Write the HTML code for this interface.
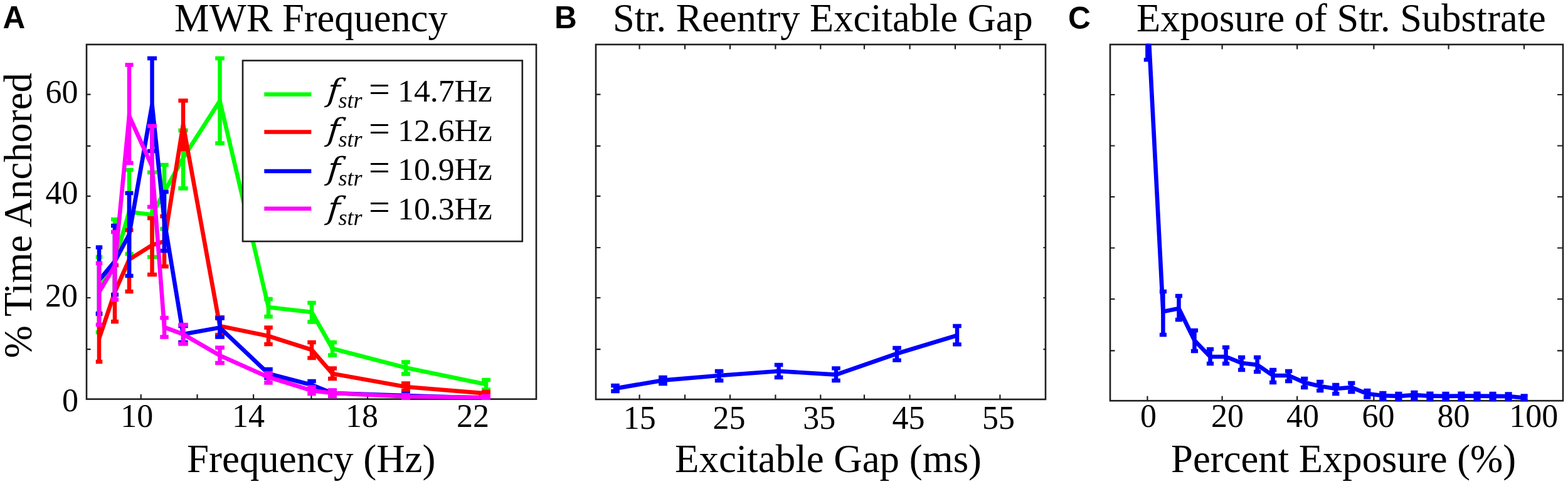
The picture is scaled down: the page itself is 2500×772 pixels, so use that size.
<!DOCTYPE html>
<html lang="en">
<head>
<meta charset="utf-8">
<title>Figure</title>
<style>html,body{margin:0;padding:0;background:#fff;}body{width:2500px;height:772px;overflow:hidden;}svg{display:block;}</style>
</head>
<body>
<svg width="2500" height="772" viewBox="0 0 2500 772">
<rect width="2500" height="772" fill="#fff"/>
<defs>
<clipPath id="cA"><rect x="136.7" y="69.7" width="719.6" height="568.2"/></clipPath>
<clipPath id="cB"><rect x="948.7" y="69.7" width="719.6" height="568.6"/></clipPath>
<clipPath id="cC"><rect x="1768.7" y="69.7" width="724.6" height="570.8000000000001"/></clipPath>
</defs>
<g>
<rect x="138" y="71" width="717" height="565.6" fill="none" stroke="#1e1e1e" stroke-width="2.6"/>
<path d="M224.7 636.6v-7.5M314.5 636.6v-7.5M404.1 636.6v-7.5M496.4 636.6v-7.5M586.0 636.6v-7.5M675.6 636.6v-7.5M765.2 636.6v-7.5" stroke="#1e1e1e" stroke-width="2.2" fill="none"/>
<path d="M138 557.2h6.5M138 475.0h6.5M138 395.0h6.5M138 312.8h6.5M138 232.8h6.5M138 150.7h6.5" stroke="#1e1e1e" stroke-width="2.2" fill="none"/>
<g stroke="#00ff00" fill="none" clip-path="url(#cA)">
<path d="M158.0 410.0V530.0M183.0 350.0V478.0M206.0 271.0V405.0M242.5 275.0V410.0M262.0 263.0V365.0M292.0 208.0V300.5M350.5 93.0V228.5M428.0 477.0V505.0M497.0 483.0V513.5M530.0 546.0V566.5M647.0 577.5V596.5M775.0 606.0V621.5" stroke-width="6.5"/>
<path d="M152.75 410.0h10.5M152.75 530.0h10.5M177.00 350.0h12M177.00 478.0h12M199.50 271.0h13M199.50 405.0h13M235.00 275.0h15M235.00 410.0h15M255.25 263.0h13.5M255.25 365.0h13.5M284.35 208.0h15.3M284.35 300.5h15.3M343.10 93.0h14.8M343.10 228.5h14.8M421.25 477.0h13.5M421.25 505.0h13.5M490.25 483.0h13.5M490.25 513.5h13.5M523.00 546.0h14M523.00 566.5h14M640.00 577.5h14M640.00 596.5h14M768.00 606.0h14M768.00 621.5h14" stroke-width="6.3"/>
<polyline points="158.0,464.0 183.0,416.0 206.0,338.0 242.5,342.5 262.0,306.0 292.0,252.0 350.5,161.0 428.0,490.0 497.0,498.0 530.0,556.0 647.0,586.5 775.0,613.0" stroke-width="6.7" stroke-linejoin="miter" stroke-linecap="butt"/>
</g>
<g stroke="#ff0000" fill="none" clip-path="url(#cA)">
<path d="M158.0 501.0V577.0M183.0 423.0V513.0M206.0 367.0V465.0M242.5 348.0V438.0M262.0 345.0V425.0M292.0 160.5V238.0M350.5 506.0V534.0M428.0 522.5V549.0M497.0 546.0V571.0M530.0 587.5V604.0M647.0 611.5V623.0M775.0 625.0V631.0" stroke-width="6.5"/>
<path d="M152.75 501.0h10.5M152.75 577.0h10.5M177.00 423.0h12M177.00 513.0h12M199.50 367.0h13M199.50 465.0h13M235.00 348.0h15M235.00 438.0h15M255.25 345.0h13.5M255.25 425.0h13.5M284.35 160.5h15.3M284.35 238.0h15.3M343.10 506.0h14.8M343.10 534.0h14.8M421.25 522.5h13.5M421.25 549.0h13.5M490.25 546.0h13.5M490.25 571.0h13.5M523.00 587.5h14M523.00 604.0h14M640.00 611.5h14M640.00 623.0h14M768.00 625.0h14M768.00 631.0h14" stroke-width="6.3"/>
<polyline points="158.0,540.0 183.0,466.0 206.0,414.0 242.5,391.0 262.0,385.0 292.0,199.0 350.5,520.0 428.0,536.0 497.0,558.0 530.0,596.0 647.0,617.0 775.0,627.5" stroke-width="6.7" stroke-linejoin="miter" stroke-linecap="butt"/>
</g>
<g stroke="#0000ff" fill="none" clip-path="url(#cA)">
<path d="M158.0 394.5V500.0M183.0 360.0V470.0M206.0 308.0V440.0M242.5 93.0V241.0M262.0 306.0V400.0M292.0 520.0V546.0M350.5 507.5V537.5M428.0 589.0V603.0M497.0 608.0V620.0M530.0 623.0V631.0M647.0 628.0V634.0M775.0 633.0V637.0" stroke-width="6.5"/>
<path d="M152.75 394.5h10.5M152.75 500.0h10.5M177.00 360.0h12M177.00 470.0h12M199.50 308.0h13M199.50 440.0h13M235.00 93.0h15M235.00 241.0h15M255.25 306.0h13.5M255.25 400.0h13.5M284.35 520.0h15.3M284.35 546.0h15.3M343.10 507.5h14.8M343.10 537.5h14.8M421.25 589.0h13.5M421.25 603.0h13.5M490.25 608.0h13.5M490.25 620.0h13.5M523.00 623.0h14M523.00 631.0h14M640.00 628.0h14M640.00 634.0h14M768.00 633.0h14M768.00 637.0h14" stroke-width="6.3"/>
<polyline points="158.0,447.0 183.0,417.0 206.0,374.0 242.5,167.0 262.0,352.0 292.0,533.0 350.5,522.5 428.0,596.0 497.0,614.0 530.0,627.0 647.0,631.0 775.0,635.0" stroke-width="6.7" stroke-linejoin="miter" stroke-linecap="butt"/>
</g>
<g stroke="#ff00ff" fill="none" clip-path="url(#cA)">
<path d="M158.0 420.0V518.0M183.0 370.0V478.0M206.0 103.5V260.0M242.5 201.0V330.0M262.0 507.0V537.5M292.0 518.0V548.5M350.5 554.5V579.0M428.0 595.5V610.5M497.0 617.5V628.0M530.0 622.5V632.0M647.0 630.0V635.5M775.0 632.0V636.5" stroke-width="6.5"/>
<path d="M152.75 420.0h10.5M152.75 518.0h10.5M177.00 370.0h12M177.00 478.0h12M199.50 103.5h13M199.50 260.0h13M235.00 201.0h15M235.00 330.0h15M255.25 507.0h13.5M255.25 537.5h13.5M284.35 518.0h15.3M284.35 548.5h15.3M343.10 554.5h14.8M343.10 579.0h14.8M421.25 595.5h13.5M421.25 610.5h13.5M490.25 617.5h13.5M490.25 628.0h13.5M523.00 622.5h14M523.00 632.0h14M640.00 630.0h14M640.00 635.5h14M768.00 632.0h14M768.00 636.5h14" stroke-width="6.3"/>
<polyline points="158.0,466.0 183.0,424.0 206.0,185.0 242.5,265.5 262.0,522.0 292.0,533.0 350.5,567.0 428.0,601.5 497.0,623.0 530.0,627.0 647.0,632.5 775.0,634.0" stroke-width="6.7" stroke-linejoin="miter" stroke-linecap="butt"/>
</g>
<rect x="387" y="96.6" width="445.79999999999995" height="288.4" fill="#fff" stroke="#1e1e1e" stroke-width="2.6"/>
<path d="M421.3 150.5H496.3" stroke="#00ff00" stroke-width="6.7"/>
<text transform="matrix(1.08 0 -0.0864 1 521.1 161)" font-family='"DejaVu Serif","Liberation Serif",serif' font-style="italic" font-size="49.5">f</text>
<text x="539.5" y="171.5" font-family='"Liberation Serif","DejaVu Serif",serif' font-style="italic" font-size="36">str</text>
<text x="588" y="162" font-family='"Liberation Serif","DejaVu Serif",serif' font-size="60">=</text>
<text x="634.1" y="162" font-family='"Liberation Serif","DejaVu Serif",serif' font-size="51.7">14.7Hz</text>
<path d="M421.3 210.5H496.3" stroke="#ff0000" stroke-width="6.7"/>
<text transform="matrix(1.08 0 -0.0864 1 521.1 223.5)" font-family='"DejaVu Serif","Liberation Serif",serif' font-style="italic" font-size="49.5">f</text>
<text x="539.5" y="234.0" font-family='"Liberation Serif","DejaVu Serif",serif' font-style="italic" font-size="36">str</text>
<text x="588" y="224.5" font-family='"Liberation Serif","DejaVu Serif",serif' font-size="60">=</text>
<text x="634.1" y="224.5" font-family='"Liberation Serif","DejaVu Serif",serif' font-size="51.7">12.6Hz</text>
<path d="M421.3 273H496.3" stroke="#0000ff" stroke-width="6.7"/>
<text transform="matrix(1.08 0 -0.0864 1 521.1 285.5)" font-family='"DejaVu Serif","Liberation Serif",serif' font-style="italic" font-size="49.5">f</text>
<text x="539.5" y="296.0" font-family='"Liberation Serif","DejaVu Serif",serif' font-style="italic" font-size="36">str</text>
<text x="588" y="286.5" font-family='"Liberation Serif","DejaVu Serif",serif' font-size="60">=</text>
<text x="634.1" y="286.5" font-family='"Liberation Serif","DejaVu Serif",serif' font-size="51.7">10.9Hz</text>
<path d="M421.3 332.75H496.3" stroke="#ff00ff" stroke-width="6.7"/>
<text transform="matrix(1.08 0 -0.0864 1 521.1 348.5)" font-family='"DejaVu Serif","Liberation Serif",serif' font-style="italic" font-size="49.5">f</text>
<text x="539.5" y="359.0" font-family='"Liberation Serif","DejaVu Serif",serif' font-style="italic" font-size="36">str</text>
<text x="588" y="349.5" font-family='"Liberation Serif","DejaVu Serif",serif' font-size="60">=</text>
<text x="634.1" y="349.5" font-family='"Liberation Serif","DejaVu Serif",serif' font-size="51.7">10.3Hz</text>
<rect x="950" y="71" width="717" height="566" fill="none" stroke="#1e1e1e" stroke-width="2.6"/>
<path d="M1019.6 637v-7.5M1092.0 637v-7.5M1164.0 637v-7.5M1236.4 637v-7.5M1308.3 637v-7.5M1378.0 637v-7.5M1450.6 637v-7.5M1523.0 637v-7.5M1594.4 637v-7.5" stroke="#1e1e1e" stroke-width="2.2" fill="none"/>
<path d="M1019.6 71v7.5M1092.0 71v7.5M1164.0 71v7.5M1236.4 71v7.5M1308.3 71v7.5M1378.0 71v7.5M1450.6 71v7.5M1523.0 71v7.5M1594.4 71v7.5" stroke="#1e1e1e" stroke-width="2.2" fill="none"/>
<path d="M950 557.2h7.5M950 475.0h7.5M950 395.0h7.5M950 312.8h7.5M950 232.8h7.5M950 150.7h7.5" stroke="#1e1e1e" stroke-width="2.2" fill="none"/>
<path d="M1667 557.2h-3.5M1667 475.0h-3.5M1667 395.0h-3.5M1667 312.8h-3.5M1667 232.8h-3.5M1667 150.7h-3.5" stroke="#1e1e1e" stroke-width="2.2" fill="none"/>
<g stroke="#0000ff" fill="none" clip-path="url(#cB)">
<path d="M981.0 615.0V624.0M1057.0 602.0V612.0M1146.6 592.0V607.0M1241.6 582.0V602.0M1333.0 587.4V607.0M1430.0 555.0V574.6M1526.0 520.0V549.4" stroke-width="6.5"/>
<path d="M974.20 615.0h13.6M974.20 624.0h13.6M1050.20 602.0h13.6M1050.20 612.0h13.6M1139.80 592.0h13.6M1139.80 607.0h13.6M1234.80 582.0h13.6M1234.80 602.0h13.6M1326.20 587.4h13.6M1326.20 607.0h13.6M1423.20 555.0h13.6M1423.20 574.6h13.6M1519.20 520.0h13.6M1519.20 549.4h13.6" stroke-width="6.3"/>
<polyline points="981.0,619.6 1057.0,606.6 1146.6,599.0 1241.6,592.0 1333.0,597.6 1430.0,564.0 1526.0,535.0" stroke-width="6.7" stroke-linejoin="miter" stroke-linecap="butt"/>
</g>
<rect x="1770" y="71" width="722" height="568.2" fill="none" stroke="#1e1e1e" stroke-width="2.6"/>
<path d="M1829.4 639.2v-7.5M1948.6 639.2v-7.5M2068.2 639.2v-7.5M2190.4 639.2v-7.5M2309.6 639.2v-7.5M2430.0 639.2v-7.5" stroke="#1e1e1e" stroke-width="2.2" fill="none"/>
<path d="M1829.4 71v7.5M1948.6 71v7.5M2068.2 71v7.5M2190.4 71v7.5M2309.6 71v7.5M2430.0 71v7.5" stroke="#1e1e1e" stroke-width="2.2" fill="none"/>
<path d="M1770 559.4h7.5M1770 477.0h7.5M1770 395.5h7.5M1770 314.0h7.5M1770 232.5h7.5M1770 151.0h7.5" stroke="#1e1e1e" stroke-width="2.2" fill="none"/>
<path d="M2492 559.4h-9M2492 477.0h-9M2492 395.5h-9M2492 314.0h-9M2492 232.5h-9M2492 151.0h-9" stroke="#1e1e1e" stroke-width="2.2" fill="none"/>
<g stroke="#0000ff" fill="none" clip-path="url(#cC)">
<path d="M1829.4 -60.0V95.4M1854.4 465.0V534.0M1879.5 472.0V510.0M1904.5 527.0V560.0M1929.5 557.0V580.0M1954.6 554.0V580.0M1979.6 570.0V590.0M2004.6 570.0V593.0M2029.6 590.0V610.0M2054.7 592.0V608.0M2079.7 604.0V618.0M2104.7 609.0V623.0M2129.8 614.0V628.0M2154.8 611.0V625.0M2179.8 623.0V633.5M2204.9 627.0V636.5M2229.9 627.8V637.5M2254.9 626.0V636.0M2279.9 627.6V637.5M2305.0 628.0V637.5M2330.0 627.6V637.5M2355.0 627.6V637.5M2380.1 628.0V637.5M2405.1 628.5V637.5M2430.1 631.5V638.2" stroke-width="6.5"/>
<path d="M1823.80 -60.0h11.2M1823.80 95.4h11.2M1848.83 465.0h11.2M1848.83 534.0h11.2M1873.86 472.0h11.2M1873.86 510.0h11.2M1898.89 527.0h11.2M1898.89 560.0h11.2M1923.92 557.0h11.2M1923.92 580.0h11.2M1948.95 554.0h11.2M1948.95 580.0h11.2M1973.98 570.0h11.2M1973.98 590.0h11.2M1999.01 570.0h11.2M1999.01 593.0h11.2M2024.04 590.0h11.2M2024.04 610.0h11.2M2049.07 592.0h11.2M2049.07 608.0h11.2M2074.10 604.0h11.2M2074.10 618.0h11.2M2099.13 609.0h11.2M2099.13 623.0h11.2M2124.16 614.0h11.2M2124.16 628.0h11.2M2149.19 611.0h11.2M2149.19 625.0h11.2M2174.22 623.0h11.2M2174.22 633.5h11.2M2199.25 627.0h11.2M2199.25 636.5h11.2M2224.28 627.8h11.2M2224.28 637.5h11.2M2249.31 626.0h11.2M2249.31 636.0h11.2M2274.34 627.6h11.2M2274.34 637.5h11.2M2299.37 628.0h11.2M2299.37 637.5h11.2M2324.40 627.6h11.2M2324.40 637.5h11.2M2349.43 627.6h11.2M2349.43 637.5h11.2M2374.46 628.0h11.2M2374.46 637.5h11.2M2399.49 628.5h11.2M2399.49 637.5h11.2M2424.52 631.5h11.2M2424.52 638.2h11.2" stroke-width="6.3"/>
<polyline points="1829.4,15.0 1854.4,497.0 1879.5,492.0 1904.5,543.0 1929.5,569.0 1954.6,569.0 1979.6,579.0 2004.6,582.0 2029.6,599.0 2054.7,599.0 2079.7,610.0 2104.7,616.0 2129.8,620.0 2154.8,618.0 2179.8,628.0 2204.9,631.0 2229.9,631.8 2254.9,630.2 2279.9,631.6 2305.0,631.8 2330.0,631.6 2355.0,631.6 2380.1,631.8 2405.1,632.2 2430.1,634.5" stroke-width="6.7" stroke-linejoin="miter" stroke-linecap="butt"/>
</g>
<text x="4.6" y="45.4" font-family='"Liberation Sans","DejaVu Sans",sans-serif' font-size="49.5" font-weight="bold" text-anchor="start" >A</text>
<text x="884" y="45.4" font-family='"Liberation Sans","DejaVu Sans",sans-serif' font-size="49.5" font-weight="bold" text-anchor="start" >B</text>
<text x="1703.1" y="45.8" font-family='"Liberation Sans","DejaVu Sans",sans-serif' font-size="49.8" font-weight="bold" text-anchor="start" >C</text>
<text x="278.1" y="50" font-family='"Liberation Serif","DejaVu Serif",serif' font-size="62.5" font-weight="normal" text-anchor="start" >MWR Frequency</text>
<text x="976.9" y="50" font-family='"Liberation Serif","DejaVu Serif",serif' font-size="62.5" font-weight="normal" text-anchor="start" >Str. Reentry Excitable Gap</text>
<text x="1812.1" y="50" font-family='"Liberation Serif","DejaVu Serif",serif' font-size="62.5" font-weight="normal" text-anchor="start" >Exposure of Str. Substrate</text>
<text x="298.1" y="753" font-family='"Liberation Serif","DejaVu Serif",serif' font-size="62.9" font-weight="normal" text-anchor="start" >Frequency (Hz)</text>
<text x="1076.1" y="752.6" font-family='"Liberation Serif","DejaVu Serif",serif' font-size="62.9" font-weight="normal" text-anchor="start" >Excitable Gap (ms)</text>
<text x="1867.1" y="752.6" font-family='"Liberation Serif","DejaVu Serif",serif' font-size="62.7" font-weight="normal" text-anchor="start" >Percent Exposure (%)</text>
<text x="50" y="571.2" font-family='"Liberation Serif","DejaVu Serif",serif' font-size="62.5" font-weight="normal" text-anchor="start"  transform="rotate(-90 50 571.2)">% Time Anchored</text>
<text x="192.2" y="680.5" font-family='"Liberation Serif","DejaVu Serif",serif' font-size="52" font-weight="normal" text-anchor="start" >10</text>
<text x="370" y="680.5" font-family='"Liberation Serif","DejaVu Serif",serif' font-size="52" font-weight="normal" text-anchor="start" >14</text>
<text x="550.9" y="680.5" font-family='"Liberation Serif","DejaVu Serif",serif' font-size="52" font-weight="normal" text-anchor="start" >18</text>
<text x="728" y="680.5" font-family='"Liberation Serif","DejaVu Serif",serif' font-size="52" font-weight="normal" text-anchor="start" >22</text>
<text x="99" y="655.5" font-family='"Liberation Serif","DejaVu Serif",serif' font-size="52" font-weight="normal" text-anchor="start" >0</text>
<text x="72.1" y="488.5" font-family='"Liberation Serif","DejaVu Serif",serif' font-size="52" font-weight="normal" text-anchor="start" >20</text>
<text x="72.5" y="325" font-family='"Liberation Serif","DejaVu Serif",serif' font-size="52" font-weight="normal" text-anchor="start" >40</text>
<text x="72.4" y="163.5" font-family='"Liberation Serif","DejaVu Serif",serif' font-size="52" font-weight="normal" text-anchor="start" >60</text>
<text x="993.7" y="683.5" font-family='"Liberation Serif","DejaVu Serif",serif' font-size="52" font-weight="normal" text-anchor="start" >15</text>
<text x="1136.4" y="683.5" font-family='"Liberation Serif","DejaVu Serif",serif' font-size="52" font-weight="normal" text-anchor="start" >25</text>
<text x="1280.2" y="683.5" font-family='"Liberation Serif","DejaVu Serif",serif' font-size="52" font-weight="normal" text-anchor="start" >35</text>
<text x="1422.5" y="683.5" font-family='"Liberation Serif","DejaVu Serif",serif' font-size="52" font-weight="normal" text-anchor="start" >45</text>
<text x="1566" y="683.5" font-family='"Liberation Serif","DejaVu Serif",serif' font-size="52" font-weight="normal" text-anchor="start" >55</text>
<text x="1818" y="680.5" font-family='"Liberation Serif","DejaVu Serif",serif' font-size="52" font-weight="normal" text-anchor="start" >0</text>
<text x="1930.9" y="680.5" font-family='"Liberation Serif","DejaVu Serif",serif' font-size="52" font-weight="normal" text-anchor="start" >20</text>
<text x="2051" y="680.5" font-family='"Liberation Serif","DejaVu Serif",serif' font-size="52" font-weight="normal" text-anchor="start" >40</text>
<text x="2171.4" y="680.5" font-family='"Liberation Serif","DejaVu Serif",serif' font-size="52" font-weight="normal" text-anchor="start" >60</text>
<text x="2291.5" y="680.5" font-family='"Liberation Serif","DejaVu Serif",serif' font-size="52" font-weight="normal" text-anchor="start" >80</text>
<text x="2406.2" y="680.5" font-family='"Liberation Serif","DejaVu Serif",serif' font-size="52" font-weight="normal" text-anchor="start" >100</text>
</g>
</svg>
</body>
</html>
